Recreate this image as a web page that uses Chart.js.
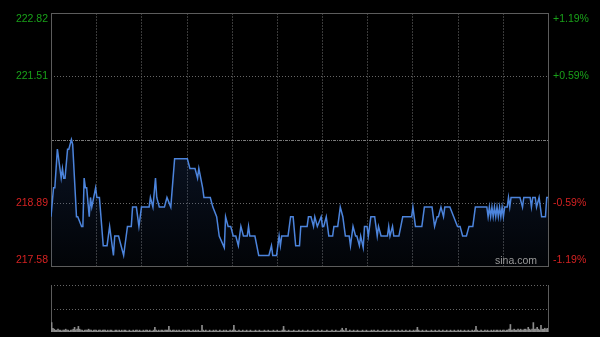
<!DOCTYPE html>
<html>
<head>
<meta charset="utf-8">
<script src="https://cdn.jsdelivr.net/npm/chart.js@4.4.0/dist/chart.umd.min.js"></script>
<style>
  html, body { margin: 0; padding: 0; background: #000; }
  #wrap { position: relative; width: 600px; height: 337px; }
  canvas { position: absolute; left: 0; top: 0; }
</style>
</head>
<body>
<div id="wrap">
  <canvas id="priceChart" width="600" height="337"></canvas>
  <canvas id="volChart" width="600" height="337"></canvas>
</div>
<script>
  // faixa de preço e rótulos dos eixos
  const prevClose = 220.20;
  const priceMin = 217.58, priceMax = 222.82;
  const priceTicks = [217.58, 218.89, 220.20, 221.51, 222.82];
  const leftLabels = ['217.58', '218.89', '', '221.51', '222.82'];
  const rightLabels = ['-1.19%', '-0.59%', '', '+0.59%', '+1.19%'];
  const sessionMinutes = 390;

  // minutos da sessão e preço em cada vértice da linha
  const minutes = [
    0, 2, 3, 5, 8, 9, 10, 11, 13, 14,
    16, 17, 20, 21, 24, 25, 26, 27, 28, 30,
    31, 32, 35, 36, 38, 41, 44, 46, 47, 49,
    50, 53, 55, 57, 60, 63, 64, 67, 69, 71,
    77, 78, 80, 82, 83, 85, 89, 91, 94, 97,
    107, 109, 113, 115, 116, 119, 120, 125, 127, 130,
    132, 136, 137, 139, 141, 143, 145, 147, 149, 151,
    154, 155, 156, 160, 163, 171, 173, 174, 177, 179,
    180, 181, 186, 188, 190, 192, 195, 196, 201, 202,
    204, 206, 207, 209, 212, 213, 214, 216, 218, 221,
    222, 225, 227, 229, 231, 234, 235, 237, 239, 240,
    242, 243, 245, 246, 248, 249, 251, 254, 256, 257,
    259, 264, 265, 266, 268, 269, 273, 276, 283, 284,
    286, 291, 293, 299, 301, 303, 304, 306, 308, 309,
    313, 316, 319, 321, 323, 326, 328, 331, 333, 342,
    343, 344, 345, 346, 347, 348, 349, 350, 351, 352,
    353, 354, 355, 356, 358, 359, 360, 361, 368, 370,
    371, 376, 377, 378, 380, 381, 383, 385, 388, 389,
    390
  ];
  const prices = [
    218.60, 219.20, 219.20, 220.00, 219.40, 219.60, 219.40, 219.40, 220.00, 220.00,
    220.20, 220.10, 218.60, 218.60, 218.40, 218.40, 219.40, 219.20, 219.20, 218.60,
    219.00, 218.80, 219.20, 219.00, 219.00, 218.00, 218.00, 218.40, 218.20, 217.80,
    218.20, 218.20, 218.00, 217.80, 218.40, 218.40, 218.80, 218.80, 218.40, 218.80,
    218.80, 219.00, 218.80, 219.40, 219.00, 218.80, 218.80, 219.00, 218.80, 219.80,
    219.80, 219.60, 219.60, 219.40, 219.60, 219.20, 219.00, 219.00, 218.80, 218.60,
    218.20, 217.96, 218.60, 218.40, 218.40, 218.20, 218.20, 218.00, 218.40, 218.20,
    218.20, 218.40, 218.20, 218.20, 217.80, 217.80, 218.00, 217.80, 217.80, 218.20,
    218.00, 218.20, 218.20, 218.60, 218.60, 218.00, 218.00, 218.40, 218.40, 218.60,
    218.60, 218.40, 218.60, 218.40, 218.60, 218.40, 218.40, 218.60, 218.20, 218.20,
    218.40, 218.40, 218.80, 218.60, 218.20, 218.20, 218.00, 218.40, 218.20, 218.20,
    218.00, 218.20, 217.96, 218.40, 218.40, 218.20, 218.60, 218.60, 218.20, 218.40,
    218.20, 218.20, 218.40, 218.20, 218.40, 218.20, 218.20, 218.60, 218.60, 218.80,
    218.40, 218.40, 218.80, 218.80, 218.40, 218.60, 218.60, 218.80, 218.60, 218.80,
    218.80, 218.60, 218.40, 218.40, 218.20, 218.20, 218.40, 218.40, 218.80, 218.80,
    218.60, 218.80, 218.60, 218.80, 218.60, 218.80, 218.60, 218.80, 218.60, 218.80,
    218.60, 218.80, 218.60, 218.80, 218.80, 219.00, 218.80, 219.00, 219.00, 218.80,
    219.00, 219.00, 218.80, 219.00, 219.00, 218.80, 219.00, 218.60, 218.60, 219.00,
    219.00
  ];

  // volume por minuto (unidades relativas)
  const volumes = [
    10, 4, 3, 2, 2, 3, 2, 2, 1, 2, 2, 3, 2, 2, 1, 2, 2, 3, 5, 2, 3, 6, 3, 2, 2, 1, 2, 2, 2, 3,
    2, 2, 1, 2, 2, 2, 1, 2, 2, 1, 2, 2, 2, 1, 2, 1, 2, 2, 1, 1, 2, 2, 1, 2, 1, 2, 1, 2, 2, 1,
    1, 2, 1, 1, 2, 1, 2, 2, 1, 2, 1, 1, 2, 1, 2, 2, 1, 2, 1, 1, 2, 5, 2, 1, 2, 1, 2, 2, 1, 2,
    2, 2, 6, 2, 1, 2, 2, 1, 2, 1, 2, 1, 1, 2, 1, 2, 1, 2, 2, 1, 1, 2, 1, 2, 1, 2, 1, 1, 7, 2,
    1, 2, 1, 1, 2, 1, 1, 2, 1, 2, 1, 1, 2, 1, 1, 2, 1, 2, 1, 1, 2, 1, 2, 7, 2, 1, 1, 2, 1, 1,
    2, 1, 1, 2, 1, 1, 2, 1, 1, 1, 2, 1, 1, 2, 1, 1, 1, 2, 1, 1, 2, 1, 1, 1, 2, 1, 1, 2, 1, 1,
    1, 2, 6, 2, 1, 1, 2, 1, 1, 1, 2, 1, 1, 1, 2, 1, 1, 2, 1, 1, 1, 2, 1, 1, 1, 2, 1, 1, 1, 2,
    1, 1, 2, 1, 1, 1, 2, 1, 1, 1, 2, 1, 1, 2, 1, 1, 1, 2, 4, 2, 1, 4, 1, 1, 2, 1, 1, 2, 1, 1,
    2, 1, 1, 1, 2, 1, 1, 2, 1, 1, 1, 2, 1, 2, 1, 1, 2, 1, 1, 1, 2, 1, 1, 2, 1, 1, 2, 1, 1, 2,
    1, 1, 2, 1, 1, 2, 1, 1, 2, 1, 1, 2, 1, 1, 2, 1, 2, 5, 2, 1, 1, 2, 1, 1, 2, 1, 1, 1, 2, 1,
    1, 2, 1, 1, 2, 1, 1, 2, 1, 1, 2, 1, 1, 2, 1, 1, 2, 1, 1, 2, 1, 2, 1, 1, 2, 1, 1, 2, 1, 1,
    2, 1, 2, 6, 2, 1, 1, 2, 1, 1, 2, 1, 2, 1, 1, 2, 1, 2, 1, 2, 2, 1, 2, 1, 2, 2, 1, 2, 2, 3,
    8, 2, 2, 3, 2, 2, 3, 2, 3, 2, 2, 3, 3, 2, 5, 3, 2, 3, 10, 3, 3, 5, 3, 2, 7, 3, 3, 4, 3, 4
  ];
  const volMax = 50;

  const GREEN = '#19a019';
  const RED = '#d42222';
  const LABEL_FONT = '10.5px Arial, "Liberation Sans", sans-serif';

  function hLine(ctx, x1, x2, y) {
    ctx.beginPath();
    ctx.moveTo(x1, Math.round(y) + 0.5);
    ctx.lineTo(x2, Math.round(y) + 0.5);
    ctx.stroke();
  }
  function vLine(ctx, x, y1, y2) {
    ctx.beginPath();
    ctx.moveTo(Math.round(x) + 0.5, y1);
    ctx.lineTo(Math.round(x) + 0.5, y2);
    ctx.stroke();
  }

  // grade, bordas e rótulos do gráfico de preço
  const priceDeco = {
    id: 'priceDeco',
    beforeDatasetsDraw(chart) {
      const { ctx, chartArea: a, scales: { x, y } } = chart;
      ctx.save();
      ctx.lineWidth = 1;
      // linhas verticais
      ctx.strokeStyle = '#3a3a3a';
      ctx.setLineDash([2, 1]);
      for (let i = 1; i < 11; i++) {
        vLine(ctx, x.getPixelForValue(sessionMinutes * i / 11), a.top, a.bottom);
      }
      // linhas horizontais
      priceTicks.forEach(v => {
        if (v === priceMin || v === priceMax) return;
        if (v === prevClose) {
          ctx.strokeStyle = '#7a7a7a';
          ctx.setLineDash([3, 1, 1, 1]);
        } else {
          ctx.strokeStyle = '#666';
          ctx.setLineDash([1, 2]);
        }
        hLine(ctx, a.left, a.right, y.getPixelForValue(v));
      });
      // bordas
      ctx.setLineDash([]);
      ctx.strokeStyle = '#5c5c5c';
      ctx.strokeRect(Math.round(a.left) + 0.5, Math.round(a.top) + 0.5,
        Math.round(a.right - a.left), Math.round(a.bottom - a.top));
      ctx.restore();
    },
    afterDraw(chart) {
      const { ctx, chartArea: a, scales: { y } } = chart;
      ctx.save();
      ctx.font = LABEL_FONT;
      ctx.textBaseline = 'middle';
      priceTicks.forEach((v, i) => {
        let py = y.getPixelForValue(v);
        py = Math.min(Math.max(py, a.top + 6), a.bottom - 6);
        ctx.fillStyle = v > prevClose ? GREEN : RED;
        ctx.textAlign = 'right';
        ctx.fillText(leftLabels[i], a.left - 3, py);
        ctx.textAlign = 'left';
        ctx.fillText(rightLabels[i], a.right + 5, py);
      });
      // marca d'água
      ctx.fillStyle = '#9a9a9a';
      ctx.font = '10.5px Arial, "Liberation Sans", sans-serif';
      ctx.textAlign = 'right';
      ctx.fillText('sina.com', a.right - 11, a.bottom - 5);
      ctx.restore();
    }
  };

  const volDeco = {
    id: 'volDeco',
    beforeDatasetsDraw(chart) {
      const { ctx, chartArea: a, scales: { y } } = chart;
      ctx.save();
      ctx.lineWidth = 1;
      ctx.strokeStyle = '#666';
      ctx.setLineDash([1, 2]);
      hLine(ctx, a.left, a.right, y.getPixelForValue(volMax));
      hLine(ctx, a.left, a.right, y.getPixelForValue(volMax / 2));
      ctx.setLineDash([]);
      ctx.strokeStyle = '#5c5c5c';
      vLine(ctx, a.left, a.top, a.bottom);
      vLine(ctx, a.right, a.top, a.bottom);
      ctx.restore();
    }
  };

  new Chart(document.getElementById('priceChart'), {
    type: 'line',
    data: {
      datasets: [{
        data: minutes.map((m, i) => ({ x: m, y: prices[i] })),
        borderColor: '#4c84dc',
        borderWidth: 1.5,
        pointRadius: 0,
        tension: 0,
        fill: 'start',
        backgroundColor: (c) => {
          const a = c.chart.chartArea;
          if (!a) return 'transparent';
          const g = c.chart.ctx.createLinearGradient(0, a.top, 0, a.bottom);
          g.addColorStop(0, 'rgba(40, 75, 140, 0.45)');
          g.addColorStop(1, 'rgba(40, 75, 140, 0.05)');
          return g;
        }
      }]
    },
    options: {
      responsive: false,
      animation: false,
      events: [],
      layout: { padding: { left: 51, right: 52, top: 13, bottom: 71 } },
      scales: {
        x: { type: 'linear', min: 0, max: sessionMinutes, display: false },
        y: { min: priceMin, max: priceMax, display: false }
      },
      plugins: { legend: { display: false }, tooltip: { enabled: false } }
    },
    plugins: [priceDeco]
  });

  new Chart(document.getElementById('volChart'), {
    type: 'bar',
    data: {
      datasets: [{
        data: volumes.map((v, i) => ({ x: i + 0.5, y: v })),
        backgroundColor: '#8c8c8c',
        barThickness: 1
      }]
    },
    options: {
      responsive: false,
      animation: false,
      events: [],
      layout: { padding: { left: 51, right: 52, top: 285, bottom: 5 } },
      scales: {
        x: { type: 'linear', min: 0, max: sessionMinutes, offset: false, display: false },
        y: { min: 0, max: volMax, display: false }
      },
      plugins: { legend: { display: false }, tooltip: { enabled: false } }
    },
    plugins: [volDeco]
  });
</script>
</body>
</html>
